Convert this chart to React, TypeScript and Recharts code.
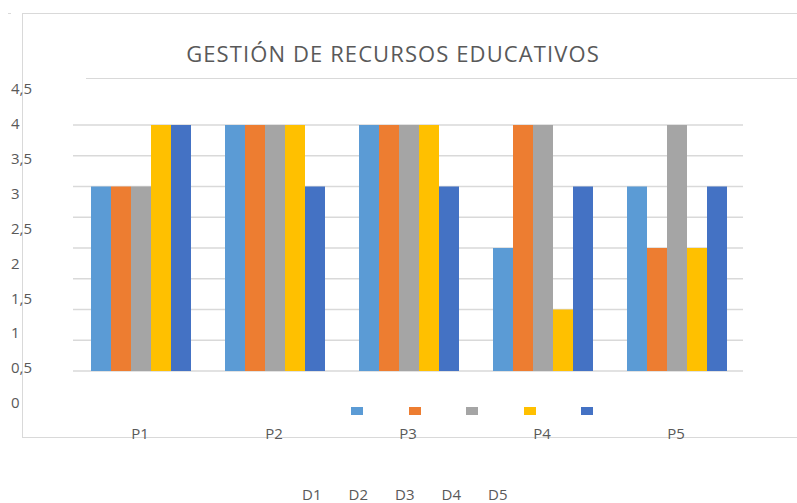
import { BarChart, Bar, XAxis, YAxis, CartesianGrid } from "recharts";

const categories = ["P1", "P2", "P3", "P4", "P5"];
const seriesNames = ["D1", "D2", "D3", "D4", "D5"];
const d1 = [3, 4, 4, 2, 3];
const d2 = [3, 4, 4, 4, 2];
const d3 = [3, 4, 4, 4, 4];
const d4 = [4, 4, 4, 1, 2];
const d5 = [4, 3, 3, 3, 3];
const gridTicks = [0, 0.5, 1, 1.5, 2, 2.5, 3, 3.5, 4];
const labelTicks = [0, 0.5, 1, 1.5, 2, 2.5, 3, 3.5, 4, 4.5];

const colors = ["#5B9BD5", "#ED7D31", "#A5A5A5", "#FFC000", "#4472C4"];

const data = categories.map((name, i) => ({
  name,
  D1: d1[i],
  D2: d2[i],
  D3: d3[i],
  D4: d4[i],
  D5: d5[i],
}));

const BAR_DOMAIN: [number, number] = [-0.52, 4.764];

const TEXT = "#595959";
const LINE = "#d9d9d9";
const FONT = "'Open Sans', 'Segoe UI', sans-serif";

// y labels sit on their own (slightly stretched) scale, like the source picture
const YTick = (props: any) => (
  <text x={11} y={props.y} dy="0.35em" textAnchor="start" fill={TEXT} fontSize={15} fontFamily={FONT}>
    {String(props.payload.value).replace(".", ",")}
  </text>
);

const XTick = (props: any) => (
  <text x={props.x} y={439} textAnchor="middle" fill={TEXT} fontSize={15} fontFamily={FONT}>
    {props.payload.value}
  </text>
);

const line = (left: number, top: number, width: number, height: number) => (
  <div style={{ position: "absolute", left, top, width, height, background: LINE }} />
);

// grid follows the bar axis domain
const gridRows = ({ offset }: any) => {
  const [lo, hi] = BAR_DOMAIN;
  return gridTicks.map((v) => offset.top + (offset.height * (hi - v)) / (hi - lo));
};

export default function App() {
  return (
    <div style={{ position: "absolute", left: 0, top: 0, width: 797, height: 503, background: "#fff", fontFamily: FONT }}>
      {line(22, 13, 775, 1)}
      {line(22, 13, 1, 424)}
      {line(22, 437, 775, 1)}
      {line(86, 78, 711, 1)}
      {line(8, 13, 3, 1)}
      <div
        style={{
          position: "absolute",
          left: 0,
          width: 786,
          top: 39,
          textAlign: "center",
          fontSize: 22,
          letterSpacing: 1.1,
          lineHeight: "28px",
          color: TEXT,
        }}
      >
        GESTIÓN DE RECURSOS EDUCATIVOS
      </div>
      <div style={{ position: "absolute", left: 0, top: 0 }}>
        <BarChart
          width={797}
          height={503}
          data={data}
          margin={{ top: 78, right: 54, left: 13, bottom: 70 }}
          barCategoryGap={18}
          barGap={0}
        >
          <CartesianGrid
            yAxisId="bars"
            vertical={false}
            stroke={LINE}
            strokeWidth={1.5}
            horizontalCoordinatesGenerator={gridRows}
          />
          <YAxis yAxisId="bars" type="number" domain={BAR_DOMAIN} ticks={gridTicks} allowDataOverflow hide />
          <YAxis
            yAxisId="labels"
            type="number"
            domain={[0, 4.658]}
            ticks={labelTicks}
            interval={0}
            allowDataOverflow
            width={60}
            axisLine={false}
            tickLine={false}
            tick={<YTick />}
          />
          <XAxis dataKey="name" height={30} axisLine={false} tickLine={false} tick={<XTick />} interval={0} />
          {seriesNames.map((s, i) => (
            <Bar key={s} yAxisId="bars" dataKey={s} fill={colors[i]} isAnimationActive={false} />
          ))}
        </BarChart>
      </div>
      {colors.map((c, i) => (
        <div
          key={"sq" + i}
          style={{ position: "absolute", left: 351 + i * 57.5, top: 407, width: 12, height: 8, background: c }}
        />
      ))}
      {seriesNames.map((s, i) => (
        <div
          key={"lb" + i}
          style={{ position: "absolute", left: 302 + i * 46.5, top: 485, fontSize: 15, color: TEXT, lineHeight: "18px" }}
        >
          {s}
        </div>
      ))}
    </div>
  );
}
